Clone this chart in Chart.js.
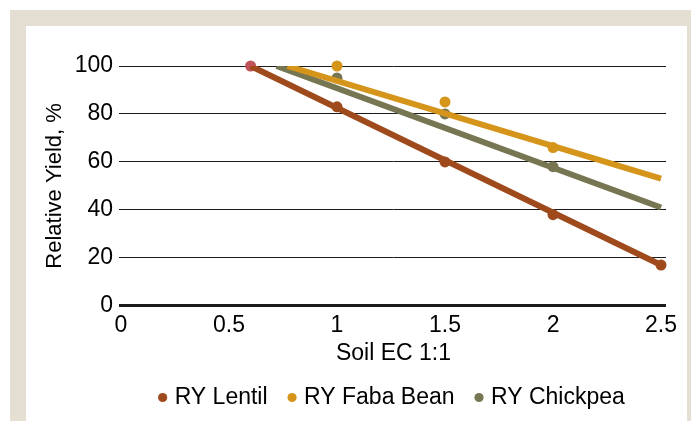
<!DOCTYPE html>
<html><head><meta charset="utf-8">
<script src="https://cdn.jsdelivr.net/npm/chart.js@4/dist/chart.umd.min.js"></script>
<style>
html,body{margin:0;padding:0;background:#fff;width:691px;height:421px;overflow:hidden;}
#frame{position:absolute;left:10px;top:10px;width:661px;height:395px;border-left:16px solid #e5dfd3;border-top:16px solid #e5dfd3;border-right:4px solid #e5dfd3;background:#fff;}
#wrap{position:absolute;left:26px;top:26px;width:661px;height:395px;}
</style></head>
<body>
<div id="frame"></div>
<div id="wrap"><canvas id="c" width="661" height="395"></canvas></div>
<script>
// ---- data ----
const seriesNames = ['RY Lentil', 'RY Faba Bean', 'RY Chickpea'];
const xTickValues = [0, 0.5, 1, 1.5, 2, 2.5];
const yTickValues = [0, 20, 40, 60, 80, 100];

const lentilX = [1, 1.5, 2, 2.5, 0.6];
const lentilY = [83, 60, 38, 17, 100];
const fabaX = [1, 1.5, 2];
const fabaY = [100, 85, 66];
const chickX = [1, 1.5, 2];
const chickY = [95, 80, 58];

// trendlines (endpoints)
const lentilTrendX = [0.6, 2.5];
const lentilTrendY = [100, 17];
const fabaTrendX = [0.77, 2.5];
const fabaTrendY = [100, 53];
const chickTrendX = [0.72, 2.5];
const chickTrendY = [100, 41];

// ---- styling ----
const colLentil = '#9f4a1c';
const colFaba = '#d5951b';
const colChick = '#777652';
const colFirst = '#c0545a';
const FAM = '"Liberation Sans", Arial, Helvetica, sans-serif';
const FONT = {family: FAM, size: 23};
const FONT_Y = {family: FAM, size: 22};

const pts = (xs, ys) => xs.map((x, i) => ({x: x, y: ys[i]}));

const trend = (xs, ys, c) => ({
  label: '', data: pts(xs, ys), showLine: true, borderColor: c, backgroundColor: c,
  borderWidth: 6, pointRadius: 0, pointHoverRadius: 0, clip: 0, fill: false
});
const scat = (label, xs, ys, c, pc) => ({
  label: label, data: pts(xs, ys), showLine: false, borderColor: c, backgroundColor: c,
  pointBackgroundColor: pc || c, pointBorderColor: pc || c, pointRadius: 5.5, pointBorderWidth: 0, clip: false
});

const legendColors = [colLentil, colFaba, colChick];

new Chart(document.getElementById('c'), {
  type: 'scatter',
  data: {
    datasets: [
      trend(fabaTrendX, fabaTrendY, colFaba),
      trend(chickTrendX, chickTrendY, colChick),
      trend(lentilTrendX, lentilTrendY, colLentil),
      scat(seriesNames[0], lentilX, lentilY, colLentil, lentilX.map((x, i) => i === lentilX.length - 1 ? colFirst : colLentil)),
      scat(seriesNames[1], fabaX, fabaY, colFaba),
      scat(seriesNames[2], chickX, chickY, colChick)
    ]
  },
  options: {
    responsive: false,
    animation: false,
    events: [],
    layout: {padding: {top: 40, bottom: 2, left: 0, right: 21}},
    plugins: {
      tooltip: {enabled: false},
      legend: {
        position: 'bottom',
        fullSize: false,
        labels: {
          usePointStyle: true, boxWidth: 1, boxHeight: 6.5, padding: 24,
          font: FONT, color: '#000',
          generateLabels: () => seriesNames.map((n, i) => ({
            text: n, fillStyle: legendColors[i], strokeStyle: legendColors[i],
            lineWidth: 0, pointStyle: 'circle', hidden: false, datasetIndex: i + 3
          }))
        }
      }
    },
    scales: {
      x: {
        type: 'linear', min: 0, max: 2.523,
        afterBuildTicks: s => { s.ticks = xTickValues.map(v => ({value: v})); },
        ticks: {font: FONT, color: '#000', padding: -2, maxRotation: 0, callback: v => String(v)},
        grid: {display: false},
        border: {display: false},
        title: {display: true, text: 'Soil EC 1:1', font: FONT, color: '#000', padding: {top: 2, bottom: -5}}
      },
      y: {
        min: 0, max: 100,
        afterBuildTicks: s => { s.ticks = yTickValues.map(v => ({value: v})); },
        afterFit: s => { s.width = 95; },
        ticks: {font: FONT, color: '#000', padding: 6, callback: v => String(v)},
        grid: {color: '#1a1a1a', lineWidth: c => (c.tick && c.tick.value === 0 ? 3 : 1), tickLength: 2, drawTicks: true},
        border: {display: false},
        title: {display: true, text: 'Relative Yield, %', font: FONT_Y, color: '#000', padding: {top: 16, bottom: 4}}
      }
    }
  }
});
</script>
</body></html>
